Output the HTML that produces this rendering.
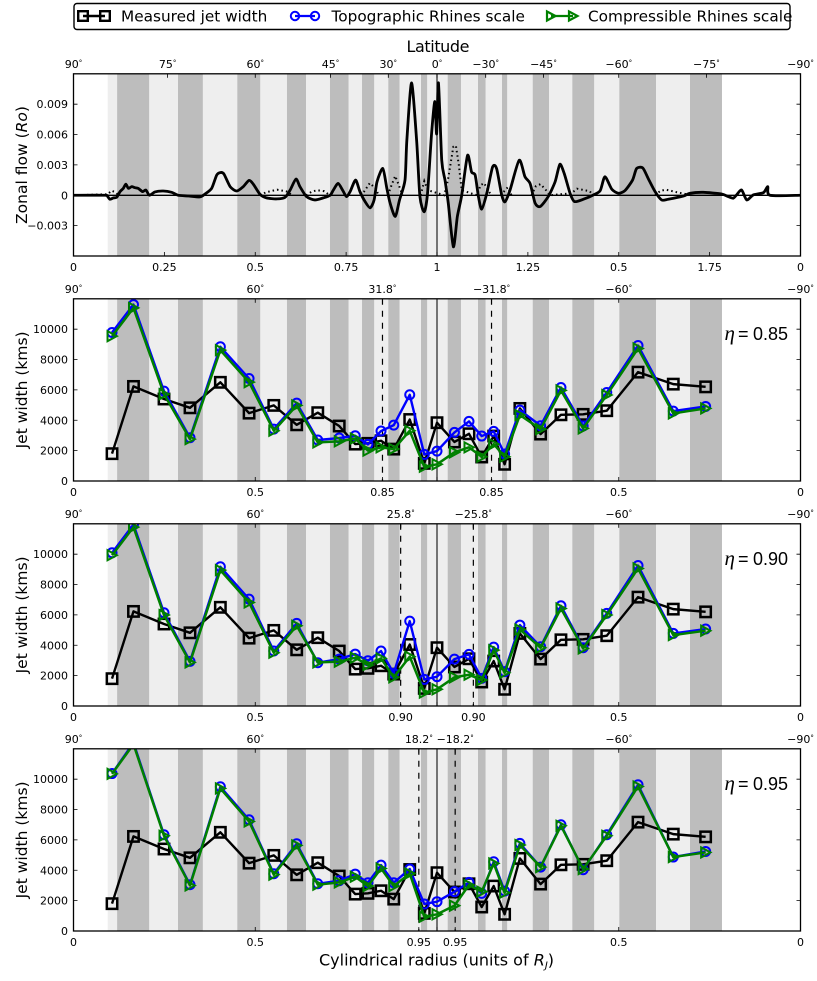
<!DOCTYPE html>
<html>
<head>
<meta charset="utf-8">
<title>Jet width versus Rhines scale</title>
<style>
html,body{margin:0;padding:0;background:#fff;}
svg{display:block;font-family:"DejaVu Sans","Liberation Sans",sans-serif;}
</style>
</head>
<body>
<svg id="figure" xmlns="http://www.w3.org/2000/svg" width="817" height="981" viewBox="0 0 817 981">
  <rect width="817" height="981" fill="#fff"/>
  <g id="panels"></g>
  <g>
    <rect x="74" y="3.5" width="716" height="26" rx="3" fill="#fff" stroke="#000" stroke-width="1.4"/>
    <g>
      <path d="M83 16H105" stroke="#000" stroke-width="2.4" fill="none"/>
      <rect x="78.2" y="11.2" width="9.600" height="9.600" fill="none" stroke="#000" stroke-width="2.4"/>
      <rect x="100.2" y="11.2" width="9.600" height="9.600" fill="none" stroke="#000" stroke-width="2.4"/>
      <text x="121" y="21.5" font-size="15.3">Measured jet width</text>
    </g>
    <g>
      <path d="M295 16H315" stroke="#0000ff" stroke-width="2.2" fill="none"/>
      <circle cx="295" cy="16" r="4.2" fill="none" stroke="#0000ff" stroke-width="2"/>
      <circle cx="315" cy="16" r="4.2" fill="none" stroke="#0000ff" stroke-width="2"/>
      <text x="331.5" y="21.5" font-size="15.3">Topographic Rhines scale</text>
    </g>
    <g>
      <path d="M551 16H573" stroke="#008000" stroke-width="2.2" fill="none"/>
      <path d="M547 11.5L555.5 16L547 20.500Z" fill="none" stroke="#008000" stroke-width="2.2"/>
      <path d="M569 11.5L577.5 16L569 20.500Z" fill="none" stroke="#008000" stroke-width="2.2"/>
      <text x="588" y="21.5" font-size="15.3">Compressible Rhines scale</text>
    </g>
  </g>
  <text x="438" y="52" font-size="16" text-anchor="middle" textLength="63">Latitude</text>
  <text x="436.500" y="965.500" font-size="16" text-anchor="middle">Cylindrical radius (units of <tspan font-style="italic">R</tspan><tspan font-style="italic" font-size="10" dy="3">J</tspan><tspan dy="-3">)</tspan></text>
  <text transform="translate(27,165) rotate(-90)" font-size="15.500" text-anchor="middle">Zonal flow (<tspan font-style="italic">Ro</tspan>)</text>
</svg>
<script>
// ---------- data ----------
const bandEdges = [0.094,0.120,0.2085,0.2875,0.356,0.4506,0.514,0.5873,0.6396,0.7056,0.757,0.7937,0.8275,0.866,0.8974,0.956,0.9733,1.0294,1.066,1.1128,1.134,1.1788,1.1934,1.2633,1.3081,1.3722,1.4327,1.5015,1.6025,1.696,1.784];
const jetRadius = [0.106,0.165,0.249,0.3205,0.404,0.483,0.551,0.614,0.672,0.731,0.775,0.81,0.846,0.881,0.925,0.965,1.0,1.048,1.088,1.123,1.156,1.186,1.228,1.285,1.341,1.402,1.467,1.553,1.65,1.739];
const measuredWidth = [1800,6230,5400,4820,6500,4470,4980,3700,4500,3620,2430,2480,2650,2100,4050,1160,3840,2570,3110,1580,2960,1100,4780,3090,4360,4390,4630,7170,6380,6200];
const topo085 = [9780,11620,5920,2850,8840,6750,3420,5130,2700,2830,2980,2410,3290,3680,5680,1750,1970,3200,3925,2960,3270,1780,4670,3640,6160,3620,5830,8925,4605,4910];
const comp085 = [9540,11400,5720,2760,8620,6510,3310,4980,2540,2610,2800,2000,2215,2105,3310,940,1100,1890,2215,1600,2430,1600,4340,3420,5965,3465,5660,8730,4450,4780];
const topo090 = [10090,11950,6140,2940,9170,7040,3620,5440,2850,3090,3420,2980,3620,2150,5590,1750,1930,3090,3400,1820,3880,2260,5330,3900,6600,3840,6100,9250,4780,5070];
const comp090 = [9930,11780,5990,2870,8950,6820,3510,5285,2870,2920,3180,2700,3140,1890,3250,880,1100,1890,2060,1710,3680,2190,5040,3840,6425,3790,5990,9060,4670,4960];
const topo095 = [10370,12400,6340,3050,9500,7325,3770,5750,3110,3310,3750,3180,4340,3180,4080,1780,1930,2590,3200,2480,4560,2630,5770,4210,7000,4035,6340,9630,4870,5240];
const comp095 = [10350,12300,6270,3000,9390,7215,3710,5640,3050,3200,3575,2960,4120,2960,3790,940,1100,1670,3030,2590,4450,2520,5660,4210,6930,4080,6270,9520,4870,5175];

const flowRadius = [0,0.087,0.094,0.1,0.11,0.119,0.128,0.137,0.144,0.151,0.16,0.169,0.178,0.19,0.199,0.209,0.224,0.247,0.27,0.288,0.316,0.348,0.362,0.38,0.394,0.405,0.414,0.431,0.449,0.467,0.483,0.495,0.513,0.531,0.559,0.582,0.596,0.612,0.623,0.641,0.664,0.687,0.706,0.715,0.728,0.741,0.751,0.761,0.776,0.788,0.802,0.816,0.827,0.835,0.851,0.862,0.871,0.885,0.897,0.912,0.917,0.93,0.944,0.953,0.965,0.974,0.985,0.994,0.999,1.004,1.013,1.022,1.031,1.045,1.056,1.068,1.084,1.095,1.105,1.114,1.123,1.137,1.153,1.164,1.178,1.187,1.201,1.226,1.242,1.256,1.27,1.284,1.306,1.325,1.338,1.35,1.366,1.378,1.403,1.43,1.449,1.462,1.481,1.499,1.517,1.538,1.549,1.566,1.581,1.6,1.618,1.636,1.678,1.696,1.733,1.783,1.801,1.815,1.824,1.838,1.852,1.87,1.898,1.91,1.916,2];
const flowSolid = [0,0,-0.13,-0.39,-0.26,-0.2,0.36,0.68,1.1,0.68,0.85,0.75,0.68,0.36,0.52,0,0.33,0.42,0.29,0,-0.07,-0.16,0.13,0.68,2,2.25,2.09,0.85,0.42,0.85,1.47,1.08,0.1,-0.26,-0.36,-0.2,0.52,1.6,0.85,-0.13,-0.46,-0.26,0,0.52,1.17,0.46,-0.13,0.36,1.5,0.36,-0.62,-1.24,-0.46,1.34,2.64,0.68,-0.78,-2.09,-0.46,1.5,5.4,11.1,5.4,-0.13,-1.63,0.2,6.06,9.26,6.06,11.1,3.46,1.5,-0.78,-5.09,-2.09,0,3.94,2.31,1.99,-0.13,-1.37,0.2,2.8,2.64,0.03,-0.65,0.52,3.46,1.83,1.17,-0.78,-1.11,-0.13,1.34,3.06,2.15,0.2,-0.62,-0.39,0.03,0.46,1.83,0.59,0.2,0.46,1.5,2.64,2.7,1.66,0.36,-0.46,-0.39,-0.07,0.2,0.29,0.13,-0.13,-0.29,0.03,0.52,-0.46,0.03,0.26,0.85,0,0];
const dottedRadius = [0,0.094,0.105,0.115,0.125,0.513,0.53,0.56,0.59,0.6,0.64,0.655,0.67,0.69,0.705,0.79,0.8,0.815,0.83,0.84,0.865,0.875,0.885,0.895,0.905,0.955,0.965,0.975,1.02,1.03,1.045,1.052,1.06,1.068,1.11,1.12,1.13,1.14,1.15,1.175,1.185,1.195,1.205,1.26,1.272,1.285,1.3,1.31,1.37,1.385,1.42,1.43,1.6,1.615,1.63,1.66,1.7,2];
const flowDotted = [0,0.1,0.45,0.3,0,0,0.3,0.55,0.35,0,0,0.35,0.5,0.4,0,0,0.4,1.2,0.7,0,0,1,1.9,1,0,0,1.4,0.5,0,1.5,4.8,4.9,3,0.5,0,1,1.2,0.5,0,0,0.4,0.8,0,0,0.9,1.1,0.5,0,0.2,0.65,0.4,0,0,0.45,0.55,0.3,0,0];

const flowTickValues = [-3,0,3,6,9];
const flowTickLabels = ["\u22120.003","0","0.003","0.006","0.009"];
const widthTickValues = [0,2000,4000,6000,8000,10000];
const widthTickLabels = ["0","2000","4000","6000","8000","10000"];

const flowBottomTicks = [0,0.25,0.5,0.75,1,1.25,1.5,1.75,2];
const flowBottomLabels = ["0","0.25","0.5","0.75","1","1.25","0.5","1.75","0"];
const flowLatitudes = [90,75,60,45,30,0,-30,-45,-60,-75,-90];

const etaValues = [0.85,0.90,0.95];
const etaLabels = ["0.85","0.90","0.95"];
const etaLatitudes = [31.8,25.8,18.2];

// ---------- layout helpers ----------
const NS = 'http://www.w3.org/2000/svg';
const root = document.getElementById('panels');
const LEFT = 73.5, RIGHT = 800.5;
function xScale(r){ return LEFT + (r / 2) * (RIGHT - LEFT); }
function latToRadius(lat){
  const c = Math.cos(Math.abs(lat) * Math.PI / 180);
  return lat >= 0 ? c : 2 - c;
}
function makeY(top, bottom, lo, hi){
  return function(v){ return bottom - (v - lo) / (hi - lo) * (bottom - top); };
}
function mk(tag, attrs, parent){
  const e = document.createElementNS(NS, tag);
  for (const k in attrs) e.setAttribute(k, attrs[k]);
  parent.appendChild(e);
  return e;
}
function latText(lat){
  const a = Math.abs(lat);
  return (lat < 0 ? '\u2212' : '') + a;
}
function drawLatLabel(g, lat, y){
  const t = mk('text', {x: xScale(latToRadius(lat)), y: y, 'font-size': 11, 'text-anchor': 'middle'}, g);
  
  
  t.appendChild(document.createTextNode(latText(lat)));
  const s = mk('tspan', {'font-size': 7, dy: -3}, t);
  s.textContent = '\u00b0';
}
function drawBands(g, top, bottom){
  for (let i = 0; i < bandEdges.length - 1; i++){
    const x0 = xScale(bandEdges[i]), x1 = xScale(bandEdges[i + 1]);
    const b = mk('rect', {x: x0, y: top, width: x1 - x0, height: bottom - top, fill: i % 2 ? '#bdbdbd' : '#eeeeee'}, g);
    
    
  }
}
function drawYTicks(g, values, labels, y){
  values.forEach(function(v, i){
    const py = y(v);
    const l = mk('path', {d: 'M' + LEFT + ' ' + py + 'h4M' + RIGHT + ' ' + py + 'h-4', stroke: '#000', 'stroke-width': 0.8, fill: 'none'}, g);
    
    
    const t = mk('text', {x: 68, y: py + 4, 'font-size': 11, 'text-anchor': 'end'}, g);
    
    
    t.textContent = labels[i];
  });
}
function drawXTicks(g, radii, labels, top, bottom){
  radii.forEach(function(r, i){
    const px = xScale(r);
    const l = mk('path', {d: 'M' + px + ' ' + bottom + 'v-4', stroke: '#000', 'stroke-width': 0.8, fill: 'none'}, g);
    
    
    if (labels[i] !== ''){
      const t = mk('text', {x: px, y: bottom + 15, 'font-size': 11, 'text-anchor': 'middle'}, g);
      
      
      t.textContent = labels[i];
    }
  });
}
function drawTopTicks(g, lats, top){
  lats.forEach(function(lat){
    const l = mk('path', {d: 'M' + xScale(latToRadius(lat)) + ' ' + top + 'v4', stroke: '#000', 'stroke-width': 0.8, fill: 'none'}, g);
    
    
    drawLatLabel(g, lat, top - 6);
  });
}
function linePath(xs, ys, y){
  return xs.map(function(r, i){ return (i ? 'L' : 'M') + xScale(r).toFixed(2) + ' ' + y(ys[i]).toFixed(2); }).join('');
}
// Line that lifts the pen while the series sits flat on the zero line.
function bumpPath(xs, ys, y){
  let d = '';
  for (let i = 0; i < xs.length - 1; i++){
    if (ys[i] === 0 && ys[i + 1] === 0) continue;
    const pen = (i === 0 || (ys[i] === 0 && ys[i - 1] === 0)) ? 'M' : 'L';
    d += pen + xScale(xs[i]).toFixed(2) + ' ' + y(ys[i]).toFixed(2);
    d += 'L' + xScale(xs[i + 1]).toFixed(2) + ' ' + y(ys[i + 1]).toFixed(2);
  }
  return d;
}
// Smooth curve through the data points, used for the continuous flow profile.
function smoothPath(xs, ys, y){
  const p = xs.map(function(r, i){ return [xScale(r), y(ys[i])]; });
  let d = 'M' + p[0][0].toFixed(2) + ' ' + p[0][1].toFixed(2);
  for (let i = 0; i < p.length - 1; i++){
    const a = p[Math.max(i - 1, 0)], b = p[i], c = p[i + 1], e = p[Math.min(i + 2, p.length - 1)];
    const k = 0.12;
    d += 'C' + (b[0] + (c[0] - a[0]) * k).toFixed(2) + ' ' + (b[1] + (c[1] - a[1]) * k).toFixed(2) + ' ' +
         (c[0] - (e[0] - b[0]) * k).toFixed(2) + ' ' + (c[1] - (e[1] - b[1]) * k).toFixed(2) + ' ' +
         c[0].toFixed(2) + ' ' + c[1].toFixed(2);
  }
  return d;
}
function addClip(id, top, bottom){
  const c = mk('clipPath', {id: id}, root);
  mk('rect', {x: LEFT, y: top, width: RIGHT - LEFT, height: bottom - top}, c);
}
function drawSpine(g, top, bottom){
  const s = mk('rect', {x: LEFT, y: top, width: RIGHT - LEFT, height: bottom - top, fill: 'none', stroke: '#000', 'stroke-width': 1.3}, g);
  
  
}

// ---------- zonal flow panel ----------
(function(){
  const top = 73.8, bottom = 256;
  const y = makeY(top, bottom, -6, 12);
  const g = mk('g', {}, root);
  
  
  addClip('clip-flow', top, bottom);
  drawBands(g, top, bottom);
  const v = mk('path', {d: 'M' + xScale(1) + ' ' + top + 'V' + bottom, stroke: '#222', 'stroke-width': 1.2, fill: 'none'}, g);
  
  
  const dotted = mk('path', {d: bumpPath(dottedRadius, flowDotted, y), stroke: '#000', 'stroke-width': 2, 'stroke-dasharray': '1.5,3', fill: 'none', 'clip-path': 'url(#clip-flow)'}, g);
  
  
  const solid = mk('path', {d: smoothPath(flowRadius, flowSolid, y), stroke: '#000', 'stroke-width': 2.8, 'stroke-linejoin': 'round', fill: 'none', 'clip-path': 'url(#clip-flow)'}, g);
  
  
  const zero = mk('path', {d: 'M' + LEFT + ' ' + y(0) + 'H' + RIGHT, stroke: '#000', 'stroke-width': 1.4, fill: 'none'}, g);
  
  
  drawYTicks(g, flowTickValues, flowTickLabels, y);
  drawXTicks(g, flowBottomTicks, flowBottomLabels, top, bottom);
  drawTopTicks(g, flowLatitudes, top);
  drawSpine(g, top, bottom);
})();

// ---------- jet width panels ----------
function drawSeries(g, xs, vals, y, color, width, kind, clip){
  const sg = mk('g', {'clip-path': 'url(#' + clip + ')'}, g);
  
  
  const l = mk('path', {d: linePath(xs, vals, y), stroke: color, 'stroke-width': width, 'stroke-linejoin': 'round', fill: 'none'}, sg);
  
  
  xs.forEach(function(r, i){
    const px = xScale(r), py = y(vals[i]);
    let m;
    if (kind === 'measured'){
      m = mk('rect', {x: px - 5.2, y: py - 5.2, width: 10.4, height: 10.4, fill: 'none', stroke: color, 'stroke-width': 2.5}, sg);
    } else if (kind === 'topographic'){
      m = mk('circle', {cx: px, cy: py, r: 4.5, fill: 'none', stroke: color, 'stroke-width': 2}, sg);
    } else {
      m = mk('path', {d: 'M' + (px - 4.5) + ' ' + (py - 5) + 'L' + (px + 4.8) + ' ' + py + 'L' + (px - 4.5) + ' ' + (py + 5) + 'Z', fill: 'none', stroke: color, 'stroke-width': 2}, sg);
    }
    
    
  });
}
function drawWidthPanel(index, top, bottom, topo, comp){
  const eta = etaValues[index], etaLabel = etaLabels[index], etaLat = etaLatitudes[index];
  const y = makeY(top, bottom, 0, 12000);
  const clip = 'clip-width-' + index;
  const g = mk('g', {}, root);
  
  
  addClip(clip, top, bottom);
  drawBands(g, top, bottom);
  const v = mk('path', {d: 'M' + xScale(1) + ' ' + top + 'V' + bottom, stroke: '#222', 'stroke-width': 1.2, fill: 'none'}, g);
  
  
  [eta, 2 - eta].forEach(function(r){
    const d = mk('path', {d: 'M' + xScale(r) + ' ' + top + 'V' + bottom, stroke: '#000', 'stroke-width': 1.2, 'stroke-dasharray': '6,6', fill: 'none'}, g);
    
    
  });
  drawSeries(g, jetRadius, measuredWidth, y, '#000', 2.4, 'measured', clip);
  drawSeries(g, jetRadius, topo, y, '#0000ff', 2.4, 'topographic', clip);
  drawSeries(g, jetRadius, comp, y, '#008000', 2.5, 'compressible', clip);
  drawYTicks(g, widthTickValues, widthTickLabels, y);
  drawXTicks(g, [0, 0.5, eta, 1, 2 - eta, 1.5, 2], ['0', '0.5', etaLabel, '', etaLabel, '0.5', '0'], top, bottom);
  drawTopTicks(g, [90, 60, etaLat, -etaLat, -60, -90], top);
  drawSpine(g, top, bottom);
  const yl = mk('text', {transform: 'translate(27,' + ((top + bottom) / 2) + ') rotate(-90)', 'font-size': 15.5, 'text-anchor': 'middle'}, g);
  
  
  yl.textContent = 'Jet width (kms)';
  const t = mk('text', {y: top + 41, 'font-size': 18, 'font-family': '"Liberation Sans",sans-serif'}, g);
  
  
  const s1 = mk('tspan', {x: 724.5, 'font-style': 'italic', 'font-family': '"Liberation Serif",serif', 'font-size': 21}, t);
  s1.textContent = '\u03b7';
  const s2 = mk('tspan', {x: 738}, t);
  s2.textContent = '=';
  const s3 = mk('tspan', {x: 753}, t);
  s3.textContent = etaLabel;
}
drawWidthPanel(0, 298.8, 481, topo085, comp085);
drawWidthPanel(1, 523.8, 706, topo090, comp090);
drawWidthPanel(2, 748.8, 931, topo095, comp095);
</script>
</body>
</html>
